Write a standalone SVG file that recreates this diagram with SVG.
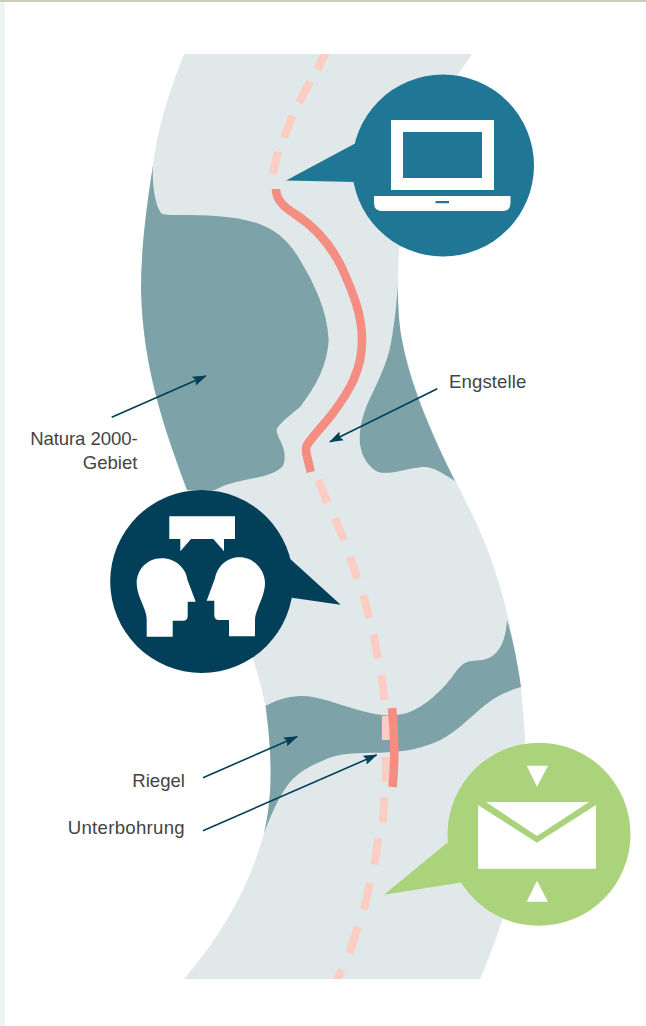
<svg xmlns="http://www.w3.org/2000/svg" width="646" height="1026" viewBox="0 0 646 1026">
<style>
.land{fill:#e0e8e9}
.dark{fill:#7da2a7}
.w{fill:#fff}
.dash{stroke:#fbcdc3;stroke-width:8;fill:none}
.red{stroke:#f68d83;stroke-width:8.6;fill:none}
.lead{stroke:#023f59;stroke-width:1.6;fill:none;marker-end:url(#arr)}
text{font-family:"Liberation Sans",Arial,sans-serif;font-size:18.6px;fill:#444}
</style>
<defs>
<marker id="arr" markerUnits="userSpaceOnUse" markerWidth="14" markerHeight="10" refX="12" refY="4.5" orient="auto" viewBox="0 0 13 9"><path d="M0,0 L13,4.5 L0,9 L2,4.5 Z" fill="#023f59"/></marker>
<clipPath id="band"><rect x="0" y="54" width="646" height="925"/></clipPath>
</defs>
<rect width="646" height="1026" fill="#fff"/>
<rect x="0" y="0" width="5" height="1026" fill="#eef3f3"/>
<rect x="0" y="0" width="646" height="2" fill="#cdcdb9"/>

<g id="corridor">
<path class="land" d="M184,54 H472 L459,73 C425,130 399,190 398,277 C397,310 399,325 402,340 C412,385 432,435 455,480 C480,530 503,570 520,680 C528,750 528,800 519,850 C512,895 497,940 480,979 H184 C222,935 250,885 264,833 C272,800 273,760 265.5,706 C260,680 255,665 250,650 L187,490 C165,430 143,370 141,290 C141,250 146,210 153,165 C158,125 170,90 184,54 Z"/>
</g>
<g id="natura">
<path class="dark" d="M153,165 C152,185 155,205 161,213 C163,215 170,215 180,215 C210,215 250,216 272,230 C285,238 293,248 300,260 C315,285 327,310 328.7,340 C327,365 317,385 300,407 C292,414 283,420 278,427 C275,431 278,436 280,440 C285,450 286,458 283,466 C275,474 265,476 250,479 C235,482 225,484 215,490 L187,490 C165,430 143,370 141,290 C141,250 146,210 153,165 Z"/>
</g>
<g id="natura-east">
<path class="dark" d="M397.6,283 C397,305 394,325 391,343 C387,365 376,385 367,405 C361,420 359,432 360,444 C362,457 368,467 378,472 C390,475 405,469 422,467 C433,466 442,473 455,481 C432,435 410,385 402,340 C399,325 398,305 397.6,283 Z"/>
</g>
<g id="riegel">
<path class="dark" d="M265.5,706 C280,698 292,696 303,696 C325,697 345,708 375,714 C385,716 397,716 407,713 C425,707 442,690 452,677 C459,667 463,662 472,661 C482,660 488,660 495,654 C503,646 506,635 507,620 C513,640 518,665 521,687 C503,692 490,700 478,711 C462,725 447,740 425,746 C410,751 395,752 378,752.7 C358,753 340,752 322,761 C305,768 294,776 287,786 C277,800 270,818 264,833 C272,800 273,760 265.5,706 Z"/>
</g>

<g id="route">
<g clip-path="url(#band)">
<path class="dash" d="M327,50 L317.3,69.3 M310,81.7 L299,102.7 M292.5,116 L284,137.7 M278,151.7 L272.8,174"/>
<path class="dash" d="M318.3,480 L327.3,502.7 M335,518.3 L344,540 M350,556.7 L357.3,579 M363.3,595 L369.3,618.3 M373.5,634.5 L378,658.5 M381.2,675 L384.6,700 M385.9,716 L385.9,740 M385.9,756.7 L385.9,781.7 M384.4,797.3 L382.9,822.3 M378.4,838.3 L374.6,864.3 M370,882.3 L364,909.3 M357.8,926.7 L349.6,953.3 M342,970 L335,983"/>
</g>
<path class="red" d="M276,189 C276,200 284,207 295,214 C315,227 330,243 342,268 C354,295 362,315 362,340 C362,370 350,390 333,413 C322,427 312,437 307,445 C305,449 306,452 307,456 L310.7,472"/>
<path class="red" d="M392,708 C395,735 395,760 392.6,787"/>
</g>

<g id="connectors">
<line class="lead" x1="111.7" y1="417.3" x2="205.7" y2="376"/>
<line class="lead" x1="437.3" y1="388.7" x2="330" y2="441.7"/>
<line class="lead" x1="203" y1="777.7" x2="297" y2="736.7"/>
<line class="lead" x1="203" y1="830.7" x2="376.5" y2="755"/>
</g>

<g id="laptop">
<circle cx="443" cy="165.5" r="91" fill="#207795"/>
<path fill="#207795" d="M286,180.5 L356,143 L356,182 Z"/>
<path class="w" fill-rule="evenodd" d="M391,120 H494 V190 H391 Z M403,132 V178 H482 V132 Z"/>
<path class="w" fill-rule="evenodd" d="M374,196 H510.5 V203 Q510.5,211 502,211 H382 Q374,211 374,203 Z M435.5,201 V203.2 H449 V201 Z"/>
</g>

<g id="people">
<circle cx="201.7" cy="581.5" r="91.5" fill="#023f59"/>
<path fill="#023f59" d="M288,557 L340.7,604.7 L290,597.5 Z"/>
<path class="w" d="M169.3,516.3 H235 V539 H224 V551.3 L213.3,539 H191 L180.3,551.3 V539 H169.3 Z"/>
<path class="w" d="M146.7,636.7 H172.7 V620.7 H183 Q187.7,620.7 187.7,616 V601.7 H195.7 L187.5,580 C186,568 175,558 161.7,558.3 C147,558 136.7,570 136.7,583 C136.7,592 141,600 144,608 C146,613 146.7,616 146.7,620 Z"/>
<path class="w" d="M255,636.3 H229 V620 H219 Q214.3,620 214.3,615 V600.7 H206.7 L215,578.3 C217,567 227,557 239.3,557.3 C254,557 265,570 265,583 C265,592 261,600 258,608 C256,613 255,616 255,620 Z"/>
</g>

<g id="mail">
<circle cx="539" cy="834.3" r="91.5" fill="#abd37b"/>
<path fill="#abd37b" d="M450,840.5 L384,894.7 L464,882 Z"/>
<path class="w" d="M526.7,765.7 H548 L537,786.7 Z"/>
<path class="w" d="M537,880.7 L548,901.7 H526.7 Z"/>
<path class="w" d="M486,802 H589 L537,836 Z"/>
<path class="w" d="M478,805 L537,842.7 L596,805 V868.7 H478 Z"/>
</g>

<g id="labels">
<text x="137.5" y="445" text-anchor="end" letter-spacing="-0.1">Natura 2000-</text>
<text x="137.5" y="469" text-anchor="end">Gebiet</text>
<text x="449" y="388" letter-spacing="0.1">Engstelle</text>
<text x="185" y="787" text-anchor="end">Riegel</text>
<text x="185" y="834" text-anchor="end" letter-spacing="0.3">Unterbohrung</text>
</g>
</svg>
